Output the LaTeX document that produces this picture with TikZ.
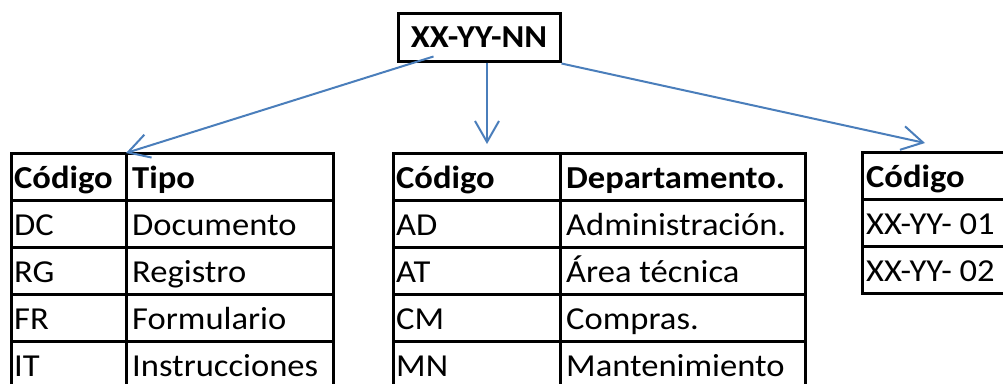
\documentclass[tikz,border=0pt]{standalone}
\usepackage{fontspec}
\setmainfont{Carlito}[FakeStretch=1.08]
\usetikzlibrary{arrows.meta}
\definecolor{arrowblue}{RGB}{74,126,187}
\begin{document}
\begin{tikzpicture}[x=1pt,y=-1pt,
  cell/.style={draw, line width=3pt, minimum height=47pt, inner sep=0pt, outer sep=0pt, anchor=north west},
  txt/.style={anchor=base west, inner sep=0pt, font=\fontsize{32}{38}\selectfont},
  link/.style={draw=arrowblue, line width=2pt, -{Straight Barb[length=21pt,width=24pt,line width=2pt]}}]
\useasboundingbox (0,0) rectangle (1003,383);
\clip (0,0) rectangle (1003,383);

% code pattern
\node[draw, line width=3pt, minimum width=162pt, minimum height=48pt, inner sep=0pt,
      font=\bfseries\fontsize{32}{38}\selectfont] (code) at (479,37) {XX-YY-NN};

% document types
\foreach \a/\b [count=\i] in {\textbf{Código}/\textbf{Tipo}, DC/Documento, RG/Registro, FR/Formulario, IT/Instrucciones} {
  \node[cell, minimum width=115pt] (tA-\i-1) at (11,{153+47*(\i-1)}) {};
  \node[cell, minimum width=207pt] (tA-\i-2) at (126,{153+47*(\i-1)}) {};
  \node[txt] (tA-\i-1t) at ([shift={(3,-12)}]tA-\i-1.south west) {\a};
  \node[txt] (tA-\i-2t) at ([shift={(6,-12)}]tA-\i-2.south west) {\b};
}

% departments
\foreach \a/\b [count=\i] in {\textbf{Código}/\textbf{Departamento.}, AD/Administración., AT/Área técnica, CM/Compras., MN/Mantenimiento} {
  \node[cell, minimum width=167pt] (tB-\i-1) at (393,{153+47*(\i-1)}) {};
  \node[cell, minimum width=245pt] (tB-\i-2) at (560,{153+47*(\i-1)}) {};
  \node[txt] (tB-\i-1t) at ([shift={(3,-12)}]tB-\i-1.south west) {\a};
  \node[txt] (tB-\i-2t) at ([shift={(6,-12)}]tB-\i-2.south west) {\b};
}

% sequence numbers
\foreach \a [count=\i] in {\textbf{Código}, XX-YY- 01, XX-YY- 02} {
  \node[cell, minimum width=170pt] (tC-\i-1) at (862,{152+47*(\i-1)}) {};
  \node[txt] (tC-\i-1t) at ([shift={(4,-12)}]tC-\i-1.south west) {\a};
}

% arrow ends
\coordinate (srcA) at ([shift={(37,-6)}]code.south west);
\coordinate (srcB) at ([xshift=8pt]code.south);
\coordinate (srcC) at ([yshift=-1pt]code.south east);
\coordinate (dstB) at ([shift={(94,-9)}]tB-1-1.north west);
\coordinate (dstC) at ([shift={(63,-9)}]tC-1-1.north west);

\draw[link] (srcA) -- (tA-1-2.north west);
\draw[link] (srcB) -- (dstB);
\draw[link] (srcC) -- (dstC);
\end{tikzpicture}
\end{document}
